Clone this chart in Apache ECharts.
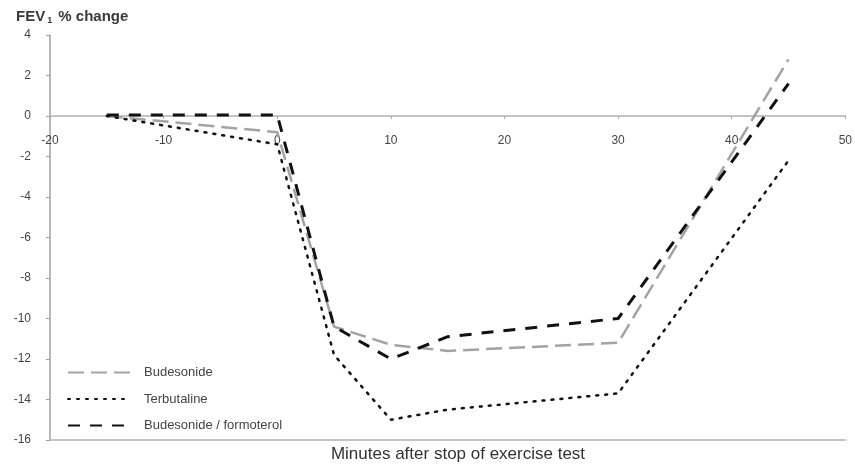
<!DOCTYPE html>
<html>
<head>
<meta charset="utf-8">
<script src="https://cdn.jsdelivr.net/npm/echarts@6/dist/echarts.min.js"></script>
<style>html,body{margin:0;padding:0;background:#fff}#c{width:855px;height:470px}</style>
</head>
<body>
<div id="c"></div>
<script>
var minutes = [-15, 0, 5, 10, 15, 30, 45];
var budesonide = [0, -0.8, -10.4, -11.3, -11.6, -11.2, 2.8];
var terbutaline = [0, -1.4, -11.8, -15.0, -14.5, -13.7, -2.2];
var budForm = [0.05, 0.05, -10.4, -12.0, -10.9, -10.0, 1.6];
var seriesNames = ['Budesonide', 'Terbutaline', 'Budesonide / formoterol'];
var yTicks = {min: -16, max: 4, interval: 2};
var xTicks = {min: -20, max: 50, interval: 10};

function pairs(xs, ys){ return xs.map(function(x,i){return [x, ys[i]];}); }

var chart = echarts.init(document.getElementById('c'), null, {renderer:'canvas'});
var font = 'Liberation Sans, Arial, sans-serif';
var gridTop = 35, gridBottom = 30, H = 470;
var plotH = H - gridTop - gridBottom;
var zeroOffset = plotH * (0 - yTicks.min) / (yTicks.max - yTicks.min);
chart.setOption({
  animation: false,
  backgroundColor: '#fff',
  title: {
    text: '{a|FEV}{s|1}{a| % change}',
    left: 11, top: 3,
    textStyle: {
      rich: {
        a: {fontFamily: font, fontSize: 15, fontWeight: 'bold', color: '#3a3a3a'},
        s: {fontFamily: font, fontSize: 9, fontWeight: 'bold', color: '#3a3a3a', verticalAlign: 'bottom', padding: [8,2,0,2]}
      }
    }
  },
  grid: {left: 50, right: 3, top: gridTop, bottom: gridBottom, containLabel: false},
  legend: {
    orient: 'vertical', left: 62, top: 361,
    itemWidth: 62, itemHeight: 10, itemGap: 13.5,
    itemStyle: {opacity: 0},
    textStyle: {fontFamily: font, fontSize: 13, color: '#444', padding: [0,0,0,9]},
    data: seriesNames
  },
  xAxis: [{
    type: 'value', min: xTicks.min, max: xTicks.max, interval: xTicks.interval,
    position: 'bottom', offset: -zeroOffset,
    axisLine: {onZero: false, lineStyle: {color: '#c4c4c4', width: 2}},
    axisTick: {show: true, length: 3, lineStyle: {color: '#aaa'}},
    axisLabel: {fontFamily: font, fontSize: 12, color: '#444', margin: 19, showMaxLabel: true, showMinLabel: true},
    splitLine: {show: false}
  },{
    type: 'value', min: xTicks.min, max: xTicks.max, position: 'bottom',
    axisLine: {show: true, onZero: false, lineStyle: {color: '#c4c4c4', width: 2}},
    axisTick: {show: false}, axisLabel: {show: false}, splitLine: {show: false}
  }],
  yAxis: {
    type: 'value', min: yTicks.min, max: yTicks.max, interval: yTicks.interval,
    axisLine: {show: true, onZero: false, lineStyle: {color: '#a0a0a0', width: 1.5}},
    axisTick: {show: true, length: 4, lineStyle: {color: '#a0a0a0'}},
    axisLabel: {fontFamily: font, fontSize: 12, color: '#444', margin: 19},
    splitLine: {show: false}
  },
  graphic: [{
    type: 'text', x: 458, y: 446,
    style: {text: 'Minutes after stop of exercise test', font: '17px ' + font, fill: '#333', textAlign: 'center'}
  }],
  series: [{
    name: seriesNames[0], type: 'line', data: pairs(minutes, budesonide),
    symbol: 'none', z: 3,
    lineStyle: {color: '#a3a3a3', width: 2.5, type: [16, 7]},
    itemStyle: {color: '#a3a3a3'}
  },{
    name: seriesNames[1], type: 'line', data: pairs(minutes, terbutaline),
    symbol: 'none', z: 4,
    lineStyle: {color: '#111', width: 2.5, type: [2, 7], cap: 'round'},
    itemStyle: {color: '#111'}
  },{
    name: seriesNames[2], type: 'line', data: pairs(minutes, budForm),
    symbol: 'none', z: 5,
    lineStyle: {color: '#111', width: 3, type: [12, 10]},
    itemStyle: {color: '#111'}
  }]
});
</script>
</body>
</html>
